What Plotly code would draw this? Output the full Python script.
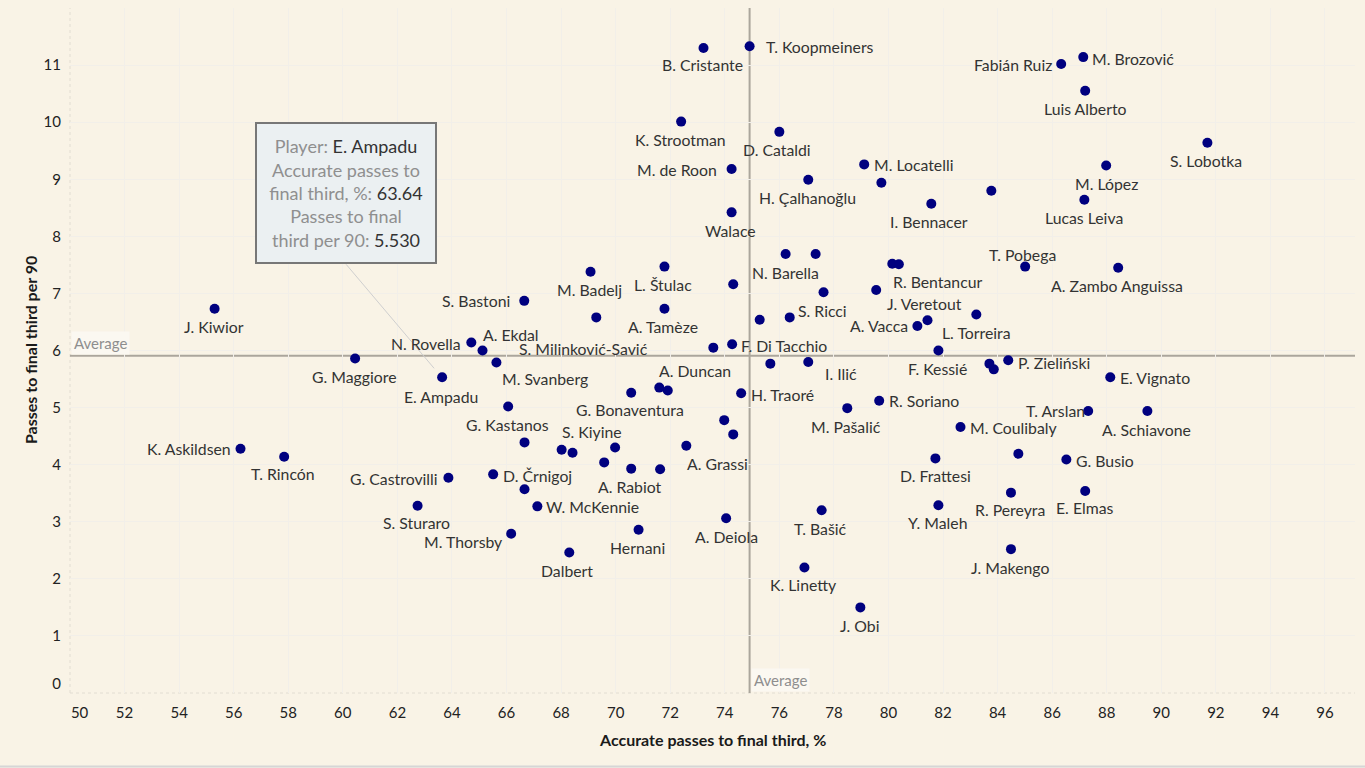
import plotly.graph_objects as go

# ---------------- data ----------------
players = [
    "T. Koopmeiners", "B. Cristante", "K. Strootman", "D. Cataldi", "M. de Roon",
    "H. Çalhanoğlu", "Walace", "M. Locatelli", "", "",
    "I. Bennacer", "Fabián Ruiz", "M. Brozović", "Luis Alberto", "S. Lobotka",
    "M. López", "Lucas Leiva", "T. Pobega", "A. Zambo Anguissa", "R. Bentancur",
    "", "J. Veretout", "A. Vacca", "", "L. Torreira",
    "F. Kessié", "", "", "P. Zieliński", "E. Vignato",
    "T. Arslan", "A. Schiavone", "R. Soriano", "M. Coulibaly", "",
    "G. Busio", "D. Frattesi", "A. Deiola", "T. Bašić", "Y. Maleh",
    "R. Pereyra", "E. Elmas", "J. Makengo", "K. Linetty", "J. Obi",
    "S. Sturaro", "W. McKennie", "M. Thorsby", "Dalbert", "Hernani",
    "J. Kiwior", "G. Maggiore", "E. Ampadu", "K. Askildsen", "T. Rincón",
    "G. Castrovilli", "S. Bastoni", "N. Rovella", "A. Ekdal", "S. Milinković-Savić",
    "M. Svanberg", "G. Kastanos", "M. Badelj", "L. Štulac", "A. Tamèze",
    "N. Barella", "", "S. Ricci", "", "",
    "", "", "F. Di Tacchio", "I. Ilić", "",
    "H. Traoré", "M. Pašalić", "G. Bonaventura", "A. Duncan", "",
    "", "", "A. Grassi", "S. Kiyine", "",
    "", "", "", "A. Rabiot", "",
    "D. Črnigoj", "",
]

acc_pct = [
    74.91, 73.22, 72.40, 76.00, 74.25,
    77.06, 74.25, 79.11, 79.74, 83.77,
    81.57, 86.33, 87.14, 87.21, 91.69,
    87.98, 87.18, 85.01, 88.42, 80.14,
    80.38, 79.55, 81.06, 81.43, 83.22,
    81.83, 83.70, 83.86, 84.39, 88.13,
    87.32, 89.49, 79.66, 82.64, 84.76,
    86.52, 81.72, 74.05, 77.55, 81.83,
    84.49, 87.21, 84.49, 76.92, 78.97,
    62.74, 67.13, 66.17, 68.30, 70.84,
    55.30, 60.45, 63.64, 56.25, 57.85,
    63.87, 66.65, 64.71, 65.12, 73.58,
    65.63, 66.06, 69.08, 71.79, 71.79,
    76.23, 77.33, 76.38, 75.28, 77.62,
    74.31, 69.29, 74.27, 77.06, 75.67,
    74.60, 78.49, 70.57, 71.91, 71.60,
    73.98, 74.31, 72.59, 68.02, 66.66,
    68.42, 69.98, 69.58, 70.57, 71.63,
    65.51, 66.66,
]

passes_p90 = [
    11.33, 11.30, 10.01, 9.83, 9.18,
    8.99, 8.42, 9.26, 8.94, 8.80,
    8.57, 11.02, 11.14, 10.55, 9.64,
    9.24, 8.64, 7.47, 7.45, 7.52,
    7.51, 7.06, 6.43, 6.53, 6.63,
    6.00, 5.77, 5.67, 5.83, 5.53,
    4.94, 4.94, 5.12, 4.66, 4.19,
    4.09, 4.11, 3.06, 3.20, 3.29,
    3.51, 3.54, 2.52, 2.20, 1.50,
    3.28, 3.27, 2.79, 2.46, 2.86,
    6.73, 5.86, 5.53, 4.28, 4.14,
    3.77, 6.87, 6.14, 6.00, 6.05,
    5.79, 5.02, 7.38, 7.47, 6.73,
    7.69, 7.69, 6.58, 6.54, 7.02,
    7.16, 6.58, 6.11, 5.80, 5.77,
    5.25, 4.99, 5.26, 5.30, 5.35,
    4.78, 4.53, 4.33, 4.26, 4.39,
    4.21, 4.30, 4.04, 3.93, 3.92,
    3.83, 3.57,
]

AVG_X = 74.91
AVG_Y = 5.91
x_ticks = list(range(50, 97, 2))
y_ticks = list(range(0, 12))
TOOLTIP_PLAYER = "E. Ampadu"

# ---------------- label placement (style only) ----------------
# (anchor, dx px, dy px screen-down); 'r' text right of mark, 'l' left, 'c' centred
label_place = [
    ('r', 16, 0), ('c', -1, 17), ('c', -1, 18), ('c', -2, 18), ('l', -15, 1),
    ('c', -1, 18), ('c', -1, 18), ('r', 10, 0), None, None,
    ('c', -2, 18), ('l', -9, 1), ('r', 9, 1), ('c', 0, 18), ('c', -1, 18),
    ('c', 0, 18), ('c', 0, 18), ('c', -3, -12), ('c', -1, 18), ('r', 1, 18),
    None, ('r', 11, 14), ('l', -9, 0), None, ('c', 0, 18),
    ('c', -1, 18), None, None, ('r', 10, 2), ('r', 10, 0),
    ('l', -3, -1), ('c', -1, 18), ('r', 10, 0), ('r', 9, 1), None,
    ('r', 10, 1), ('c', 0, 17), ('c', 0, 18), ('c', -1, 18), ('c', 0, 17),
    ('c', -1, 17), ('c', 0, 17), ('c', -1, 18), ('c', -1, 17), ('c', -1, 18),
    ('c', -1, 17), ('r', 9, 0), ('l', -8, 8), ('c', -2, 18), ('c', -1, 18),
    ('c', -1, 18), ('c', -1, 18), ('c', -1, 19), ('l', -10, 0), ('c', -1, 17),
    ('l', -10, 1), ('l', -14, 0), ('l', -10, 1), ('r', 0, -16), ('l', -65, 1),
    ('r', 6, 16), ('c', -1, 18), ('c', -1, 18), ('c', -1, 18), ('c', -1, 18),
    ('c', 0, 18), None, ('r', 8, -7), None, None,
    None, None, ('r', 9, 1), ('r', 17, 12), None,
    ('r', 10, 1), ('c', -1, 18), ('c', -1, 17), ('c', 27, -20), None,
    None, None, ('r', 1, 18), ('r', 0, -18), None,
    None, None, None, ('c', -1, 18), None,
    ('r', 10, 1), None,
]

BG = '#F9F3E6'
DOT = '#00007F'
FONT = 'Lato, Roboto, sans-serif'
LABEL_FONT = dict(family=FONT, size=15.8, color='#333333')

fig = go.Figure()
fig.add_trace(go.Scatter(
    x=acc_pct, y=passes_p90, mode='markers', text=players,
    marker=dict(size=10, color=DOT),
    hovertemplate='Player: %{text}<br>Accurate passes to final third, %: %{x:.2f}'
                  '<br>Passes to final third per 90: %{y:.3f}<extra></extra>',
    showlegend=False,
))

annotations = []
anchor_map = {'r': 'left', 'l': 'right', 'c': 'center'}
for name, xv, yv, place in zip(players, acc_pct, passes_p90, label_place):
    if not name or place is None:
        continue
    a, dx, dy = place
    annotations.append(dict(
        x=xv, y=yv, xref='x', yref='y', text=name, showarrow=False,
        xanchor=anchor_map[a], yanchor='middle', xshift=dx, yshift=-dy,
        font=LABEL_FONT, borderpad=0, borderwidth=0,
    ))

# Average labels
avg_font = dict(family=FONT, size=15, color='#8E8E8E')
annotations.append(dict(
    x=0, xref='paper', y=AVG_Y, yref='y', text='Average', showarrow=False,
    xanchor='left', yanchor='bottom', xshift=1, yshift=1,
    font=avg_font, bgcolor='#FBF8F1', borderpad=2,
))
annotations.append(dict(
    x=AVG_X, xref='x', y=0, yref='paper', text='Average', showarrow=False,
    xanchor='left', yanchor='bottom', xshift=1, yshift=1,
    font=avg_font, bgcolor='#FBF8F1', borderpad=2,
))

# Axis titles
annotations.append(dict(
    x=0.5, xref='paper', y=-0.0686, yref='paper', yanchor='middle',
    text='<b>Accurate passes to final third, %</b>', showarrow=False,
    font=dict(family=FONT, size=16, color='#1a1a1a'),
))
annotations.append(dict(
    x=-0.0307, xref='paper', y=0.5, yref='paper', xanchor='center', yanchor='middle',
    text='<b>Passes to final third per 90</b>', showarrow=False, textangle=-90,
    font=dict(family=FONT, size=16, color='#1a1a1a'),
))

# Tooltip
ti = players.index(TOOLTIP_PLAYER)
tx, ty = acc_pct[ti], passes_p90[ti]
g = '#8f8f8f'
d = '#333333'
tip_text = (
    f"<span style='color:{g}'>Player: </span><span style='color:{d}'>{TOOLTIP_PLAYER}</span><br>"
    f"<span style='color:{g}'>Accurate passes to</span><br>"
    f"<span style='color:{g}'>final third, %: </span><span style='color:{d}'>{tx:.2f}</span><br>"
    f"<span style='color:{g}'>Passes to final</span><br>"
    f"<span style='color:{g}'>third per 90: </span><span style='color:{d}'>{ty:.3f}</span>"
)
annotations.append(dict(
    x=tx, y=ty, xref='x', yref='y', text=tip_text, showarrow=False,
    xanchor='center', yanchor='middle', xshift=-96, yshift=184,
    width=172, height=132, align='center', valign='middle',
    bgcolor='#EBF0F2', bordercolor='#777777', borderwidth=2, borderpad=3,
    font=dict(family=FONT, size=18),
))

shapes = [
    # dotted frame lines (left and bottom)
    dict(type='line', xref='paper', yref='paper', x0=0, x1=0, y0=0, y1=1,
         line=dict(color='#E2DDD2', width=1, dash='dot'), layer='below'),
    dict(type='line', xref='paper', yref='paper', x0=0, x1=1, y0=0, y1=0,
         line=dict(color='#E2DDD2', width=1, dash='dot'), layer='below'),
    # average lines
    dict(type='line', xref='x', yref='paper', x0=AVG_X, x1=AVG_X, y0=0, y1=1,
         line=dict(color='#ABA69C', width=2), layer='below'),
    dict(type='line', xref='paper', yref='y', x0=0, x1=1, y0=AVG_Y, y1=AVG_Y,
         line=dict(color='#ABA69C', width=2), layer='below'),
    # tooltip leader line
    dict(type='line', xref='x', yref='y', xsizemode='pixel', ysizemode='pixel',
         xanchor=tx, yanchor=ty, x0=-96, y0=113, x1=-8, y1=9,
         line=dict(color='#CFCFCF', width=1)),
    # bottom border of the view
    dict(type='line', xref='paper', yref='paper', x0=-0.06, x1=1.01, y0=-0.1073, y1=-0.1073,
         line=dict(color='#D6D6D6', width=2)),
]

# edge tick labels are nudged inward as in the original
x_ticktext = [str(v) for v in x_ticks]
x_ticktext[0] = '\u00a0\u00a0\u00a0\u00a0\u00a0' + x_ticktext[0]
y_ticktext = [str(v) for v in y_ticks]
y_ticktext[0] = y_ticktext[0] + '<br> '

fig.update_layout(
    width=1365, height=768,
    margin=dict(l=70, r=10, t=8, b=75),
    paper_bgcolor=BG, plot_bgcolor=BG,
    annotations=annotations, shapes=shapes,
    hoverlabel=dict(bgcolor='#EBF0F2', font=dict(color='#333')),
    xaxis=dict(range=[50, 97.1], tickvals=x_ticks, ticktext=x_ticktext,
               showgrid=True, gridcolor='#F2EFE9', gridwidth=1, zeroline=False,
               showline=False, ticks='outside', ticklen=6, tickcolor='rgba(0,0,0,0)',
               tickfont=dict(family=FONT, size=15, color='#222222')),
    yaxis=dict(range=[0, 12], tickvals=y_ticks, ticktext=y_ticktext,
               showgrid=True, gridcolor='#F2EFE9', gridwidth=1, zeroline=False,
               showline=False, ticks='outside', ticklen=5, tickcolor='rgba(0,0,0,0)',
               tickfont=dict(family=FONT, size=15, color='#222222')),
)

fig.write_html("out.html", config={'displayModeBar': False},
               post_script="document.body.style.margin='0';document.body.style.overflow='hidden';")
